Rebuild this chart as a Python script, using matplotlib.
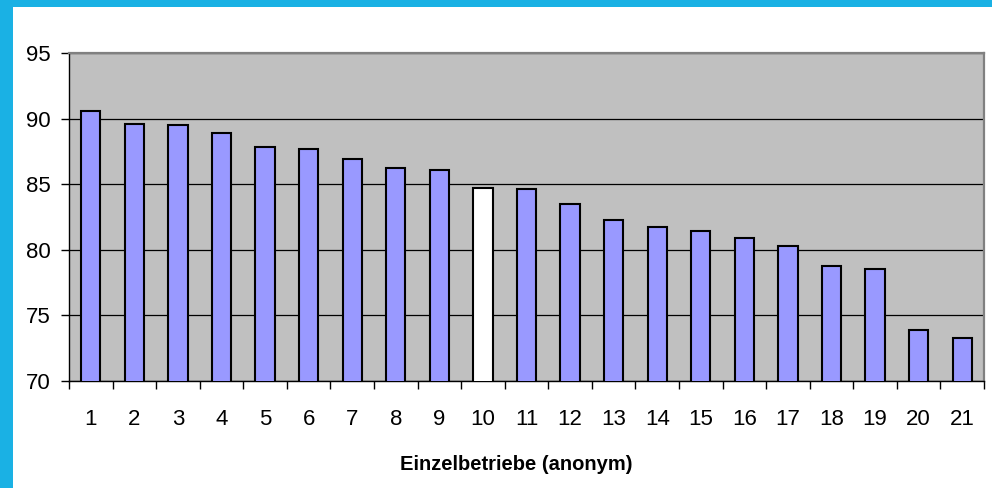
import numpy as np
import matplotlib
matplotlib.use("Agg")
import matplotlib.pyplot as plt
from matplotlib.patches import Rectangle

# Daten
betriebe = [str(i) for i in range(1, 22)]
werte = [90.6, 89.6, 89.5, 88.9, 87.8, 87.7, 86.9, 86.2, 86.1, 84.7, 84.6,
         83.5, 82.3, 81.7, 81.4, 80.9, 80.3, 78.8, 78.5, 73.9, 73.3]
y_ticks = [70, 75, 80, 85, 90, 95]
hervorgehoben = 10  # eigener Betrieb

plt.rcParams['font.family'] = ['Liberation Sans', 'DejaVu Sans']

fig = plt.figure(figsize=(9.92, 4.88), dpi=100)
fig.patch.set_facecolor('#1ab1e4')

# weisser Diagrammbereich auf blauem Hintergrund
fig.patches.append(Rectangle((13 / 992, 0), 1 - 13 / 992, 1 - 7 / 488,
                             transform=fig.transFigure, facecolor='white',
                             edgecolor='none', zorder=-10))

ax = fig.add_axes([69 / 992, 107 / 488, 915 / 992, 328 / 488])
ax.set_facecolor('#c0c0c0')

x = np.arange(len(werte))
farben = ['white' if i + 1 == hervorgehoben else '#9999ff' for i in x]
ax.bar(x, werte, width=0.44, bottom=0, color=farben, edgecolor='black',
       linewidth=1.5, zorder=3)

ax.set_xlim(-0.5, len(werte) - 0.5)
ax.set_ylim(70, 95)
ax.set_yticks(y_ticks)
ax.set_yticklabels([str(v) for v in y_ticks], fontsize=16)
ax.yaxis.grid(True, color='black', linewidth=0.9, zorder=1)
ax.set_axisbelow(True)

ax.set_xticks(x)
ax.set_xticklabels(betriebe, fontsize=16)
ax.set_xticks(np.arange(len(werte) + 1) - 0.5, minor=True)
ax.tick_params(axis='x', which='major', length=0, pad=20)
ax.tick_params(axis='x', which='minor', length=6, width=1, color='black')
ax.tick_params(axis='y', length=6, width=1, pad=7)

for s in ['top', 'right']:
    ax.spines[s].set_color('#808080')
    ax.spines[s].set_linewidth(1.6)
for s in ['left', 'bottom']:
    ax.spines[s].set_color('black')
    ax.spines[s].set_linewidth(1)

fig.text(516 / 992, 1 - 465 / 488, 'Einzelbetriebe (anonym)', fontsize=14.5,
         fontweight='bold', ha='center', va='center')

fig.savefig('out.png', dpi=100, facecolor=fig.get_facecolor())
